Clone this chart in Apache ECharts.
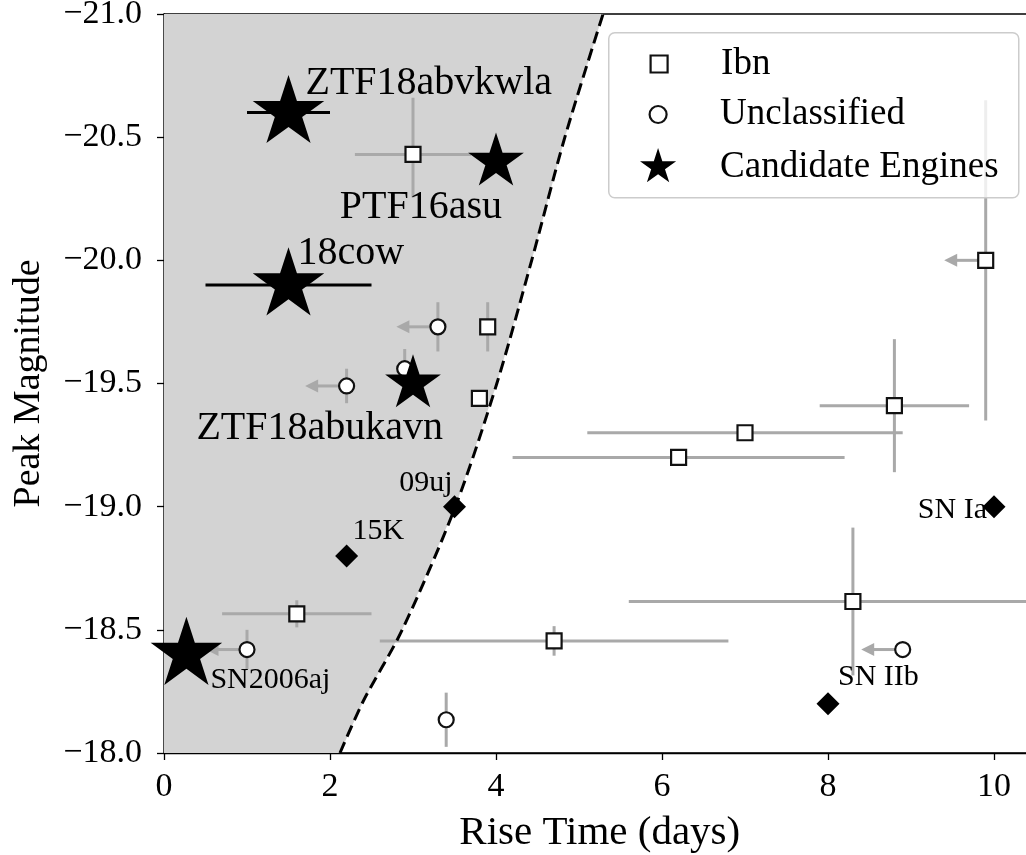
<!DOCTYPE html>
<html>
<head>
<meta charset="utf-8">
<script src="https://cdn.jsdelivr.net/npm/echarts@6/dist/echarts.min.js"></script>
<style>html,body{margin:0;padding:0;background:#fff}#chart{width:1026px;height:855px}</style>
</head>
<body>
<div id="chart"></div>
<script>
// ---------------- data ----------------
const xTicks = [0, 2, 4, 6, 8, 10];
const yTicks = [-21.0, -20.5, -20.0, -19.5, -19.0, -18.5, -18.0];

// Ibn (open squares)
const ibnX        = [3.0,    3.9,    3.8,    1.6,     4.7,     6.2,   7.0,   8.8,    8.3,     9.9];
const ibnY        = [-20.43, -19.73, -19.44, -18.565, -18.455, -19.2, -19.3, -19.41, -18.615, -20.0];
const ibnXErr     = [0.7,    0,      0,      0.9,     2.1,     2.0,   1.9,   0.9,    2.7,     0];
const ibnYErrUp   = [0.23,   0.1,    0,      0.055,   0.06,    0,     0,     0.27,   0.3,     0.65];
const ibnYErrDown = [0.175,  0.1,    0,      0.055,   0.06,    0,     0,     0.27,   0.3,     0.65];
const ibnUpperLimit = [0, 0, 0, 0, 0, 0, 0, 0, 0, 1];

// Unclassified (open circles)
const unclX   = [3.3,    2.9,    2.2,    1.0,    3.4,     8.9];
const unclY   = [-19.73, -19.56, -19.49, -18.42, -18.135, -18.42];
const unclYErr = [0.1,   0.08,   0.07,   0.08,   0.11,    0];
const unclUpperLimit = [1, 0, 1, 1, 0, 1];

// Candidate engines (stars)
const engineNames = ['ZTF18abvkwla', 'PTF16asu', '18cow', 'ZTF18abukavn', 'SN2006aj'];
const engineX     = [1.5,   4.0,   1.5,   3.0,   0.27];
const engineY     = [-20.6, -20.4, -19.9, -19.5, -18.4];
const engineXErr  = [0.5,   0,     1.0,   0,     0];

// Reference events (diamonds)
const refNames = ['09uj', '15K', 'SN Ia', 'SN IIb'];
const refX = [3.5, 2.2, 10.0, 8.0];
const refY = [-19.0, -18.8, -19.0, -18.2];

// Dashed boundary of the shaded region
const boundaryX = [2.12, 2.40, 2.87, 3.51, 4.01, 4.43, 4.83, 5.29];
const boundaryY = [-18.0, -18.21, -18.5, -19.0, -19.5, -20.0, -20.5, -21.0];

// ---------------- style ----------------
const FONT = "'Liberation Serif', 'DejaVu Serif', serif";
const ERR_GRAY = '#a9a9a9';
const EDGE = '#111';
const ARROW_LEN = 0.5; // days
const STAR_PATH = 'path://M0,100M0,-100L22.45,-30.9L95.11,-30.9L36.33,11.8L58.78,80.9L0,38.2L-58.78,80.9L-36.33,11.8L-95.11,-30.9L-22.45,-30.9Z';
const SQUARE_PATH = 'path://M0,0L10,0L10,10L0,10Z';
const STAR_R = { 'ZTF18abvkwla': 37.6, 'PTF16asu': 29.3, '18cow': 37.6, 'ZTF18abukavn': 29.3, 'SN2006aj': 37.6 };
const LABEL_LAYOUT = {
  'ZTF18abvkwla': { align: 'left',  offset: [17, -29], size: 40 },
  'PTF16asu':     { align: 'right', offset: [6, 46],   size: 40 },
  '18cow':        { align: 'left',  offset: [9, -31],  size: 40 },
  'ZTF18abukavn': { align: 'right', offset: [30, 45],  size: 40 },
  'SN2006aj':     { align: 'left',  offset: [24, 26],  size: 30 },
  '09uj':         { align: 'right', offset: [-2, -24], size: 30 },
  '15K':          { align: 'left',  offset: [6, -25],  size: 30 },
  'SN Ia':        { align: 'right', offset: [-7, 3],   size: 30 },
  'SN IIb':       { align: 'left',  offset: [10, -27], size: 30 }
};
const PX_PER_DAY = 83;
const X_MAX = 10.5;

function labelFor(name) {
  const L = LABEL_LAYOUT[name];
  return {
    show: true, formatter: '{b}', position: 'inside', align: L.align, verticalAlign: 'middle',
    offset: L.offset, color: '#000', fontFamily: FONT, fontSize: L.size, lineHeight: L.size,
    textBorderWidth: 0
  };
}

function errRender(color) {
  return function (params, api) {
    const x = api.value(0), y = api.value(1);
    const xe = api.value(2), yu = api.value(3), yd = api.value(4), lim = api.value(5);
    const style = { stroke: color, lineWidth: 3, fill: null };
    const children = [];
    if (xe > 0) {
      const a = api.coord([x - xe, y]), b = api.coord([x + xe, y]);
      children.push({ type: 'line', shape: { x1: a[0], y1: a[1], x2: b[0], y2: b[1] }, style: style });
    }
    if (yu > 0 || yd > 0) {
      const a = api.coord([x, y - yu]), b = api.coord([x, y + yd]);
      children.push({ type: 'line', shape: { x1: a[0], y1: a[1], x2: b[0], y2: b[1] }, style: style });
    }
    if (lim) {
      const p = api.coord([x, y]), t = api.coord([x - ARROW_LEN, y]);
      children.push({ type: 'line', shape: { x1: p[0], y1: p[1], x2: t[0] + 10, y2: t[1] }, style: style });
      children.push({ type: 'polygon', shape: { points: [[t[0], t[1]], [t[0] + 13, t[1] - 6.5], [t[0] + 13, t[1] + 6.5]] },
        style: { fill: color, stroke: null } });
    }
    return { type: 'group', children: children };
  };
}

const ibnErrData = ibnX.map((x, i) => [x, ibnY[i], ibnXErr[i], ibnYErrUp[i], ibnYErrDown[i], ibnUpperLimit[i]]);
const unclErrData = unclX.map((x, i) => [x, unclY[i], 0, unclYErr[i], unclYErr[i], unclUpperLimit[i]]);
const engErrData = engineX.map((x, i) => [x, engineY[i], engineXErr[i], 0, 0, 0]);

const chart = echarts.init(document.getElementById('chart'), null, { renderer: 'canvas' });

const axisLineStyle = { color: '#000', width: 1.3 };
const legendText = { color: '#000', fontFamily: FONT, fontSize: 37, lineHeight: 37 };
const option = {
  animation: false,
  backgroundColor: '#fff',
  grid: { left: 164, top: 14, width: X_MAX * PX_PER_DAY, height: 739, containLabel: false, outerBoundsMode: 'none',
    show: true, borderColor: '#000', borderWidth: 1.3, backgroundColor: 'transparent' },
  xAxis: {
    type: 'value', min: 0, max: X_MAX, interval: 2,
    axisLine: { show: true, onZero: false, lineStyle: axisLineStyle },
    axisTick: { show: true, inside: false, length: 7, lineStyle: axisLineStyle },
    splitLine: { show: false },
    axisLabel: { margin: 17, color: '#000', fontFamily: FONT, fontSize: 34, lineHeight: 34, showMaxLabel: false,
      formatter: v => (xTicks.indexOf(v) >= 0 ? String(v) : '') },
    name: 'Rise Time (days)', nameLocation: 'middle', nameGap: 60,
    nameTextStyle: { color: '#000', fontFamily: FONT, fontSize: 41, lineHeight: 41 }
  },
  yAxis: {
    type: 'value', min: -21, max: -18, interval: 0.5, inverse: true,
    axisLine: { show: true, onZero: false, lineStyle: axisLineStyle },
    axisTick: { show: true, inside: false, length: 7, lineStyle: axisLineStyle },
    splitLine: { show: false },
    axisLabel: { margin: 22, color: '#000', fontFamily: FONT, fontSize: 34, lineHeight: 34,
      formatter: v => (yTicks.indexOf(v) >= 0 ? (v < 0 ? '\u2212' : '') + Math.abs(v).toFixed(1) : '') },
    name: 'Peak Magnitude', nameLocation: 'middle', nameGap: 116,
    nameTextStyle: { color: '#000', fontFamily: FONT, fontSize: 38, lineHeight: 38 }
  },
  graphic: [{
    type: 'rect', left: 608, top: 32, z: 3,
    shape: { width: 410, height: 165, r: 6 },
    style: { fill: 'rgba(255,255,255,0.8)', stroke: '#cccccc', lineWidth: 1.5 }
  }],
  legend: [
    { data: [{ name: 'Ibn', icon: SQUARE_PATH }], left: 649.5, top: 45.5, padding: 0, itemWidth: 114, itemHeight: 17,
      selectedMode: false, itemStyle: { color: '#fff', borderColor: EDGE, borderWidth: 2.2 }, textStyle: legendText },
    { data: [{ name: 'Unclassified', icon: 'circle' }], left: 648.5, top: 96, padding: 0, itemWidth: 114, itemHeight: 17,
      selectedMode: false, itemStyle: { color: '#fff', borderColor: EDGE, borderWidth: 2.2 }, textStyle: legendText },
    { data: [{ name: 'Candidate Engines', icon: STAR_PATH }], left: 640, top: 148, padding: 0, itemWidth: 114, itemHeight: 38,
      selectedMode: false, itemStyle: { color: '#000', borderWidth: 0 }, textStyle: legendText }
  ],
  series: [
    { // shaded region left of the boundary
      type: 'custom', name: 'shade', silent: true,
      data: [[boundaryX[0], boundaryY[0]]], encode: { x: 0, y: 1 },
      renderItem: function (params, api) {
        const pts = [api.coord([0, boundaryY[0]])];
        for (let i = 0; i < boundaryX.length; i++) pts.push(api.coord([boundaryX[i], boundaryY[i]]));
        pts.push(api.coord([0, boundaryY[boundaryY.length - 1]]));
        return { type: 'polygon', shape: { points: pts }, style: { fill: '#d3d3d3', stroke: null } };
      }
    },
    { // dashed boundary
      type: 'line', name: 'boundary', silent: true, symbol: 'none', smooth: 0.3,
      data: boundaryX.map((x, i) => [x, boundaryY[i]]),
      lineStyle: { color: '#000', width: 3, type: [12, 6] }
    },
    { type: 'custom', name: 'ibnErr', silent: true, data: ibnErrData, encode: { x: 0, y: 1 }, renderItem: errRender(ERR_GRAY) },
    { type: 'custom', name: 'unclErr', silent: true, data: unclErrData, encode: { x: 0, y: 1 }, renderItem: errRender(ERR_GRAY) },
    { type: 'custom', name: 'engErr', silent: true, data: engErrData, encode: { x: 0, y: 1 }, renderItem: errRender('#000') },
    {
      type: 'scatter', name: 'Ibn', symbol: 'rect', symbolSize: 15, silent: true,
      data: ibnX.map((x, i) => [x, ibnY[i]]),
      itemStyle: { color: '#fff', borderColor: EDGE, borderWidth: 2.2, opacity: 1 }
    },
    {
      type: 'scatter', name: 'Unclassified', symbol: 'circle', symbolSize: 15, silent: true,
      data: unclX.map((x, i) => [x, unclY[i]]),
      itemStyle: { color: '#fff', borderColor: EDGE, borderWidth: 2.2, opacity: 1 }
    },
    {
      type: 'scatter', name: 'Candidate Engines', symbol: STAR_PATH, silent: true,
      data: engineNames.map((n, i) => ({
        name: n, value: [engineX[i], engineY[i]],
        symbolSize: [1.902 * STAR_R[n], 2 * STAR_R[n]],
        label: labelFor(n)
      })),
      itemStyle: { color: '#000', opacity: 1 }
    },
    {
      type: 'scatter', name: 'reference', symbol: 'diamond', symbolSize: 23, silent: true,
      data: refNames.map((n, i) => ({ name: n, value: [refX[i], refY[i]], label: labelFor(n) })),
      itemStyle: { color: '#000', opacity: 1 }
    }
  ]
};
chart.setOption(option);
</script>
</body>
</html>
